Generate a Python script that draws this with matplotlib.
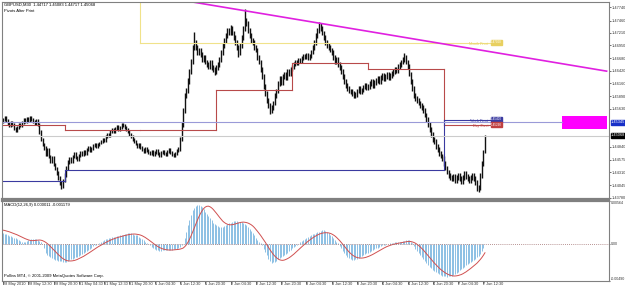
import matplotlib
matplotlib.use("Agg")
import matplotlib.pyplot as plt
from matplotlib.patches import Rectangle

# GBPUSD M30 bars, low / high in pips above 1.4000 (bar 0 = 28 May 04:30)
bar_lo = [533, 537, 535, 529, 525, 525, 527, 519, 515, 515,
          522, 525, 525, 531, 533, 533, 535, 535, 537, 533,
          529, 529, 527, 511, 496, 486, 478, 466, 466, 461,
          451, 451, 444, 436, 426, 416, 405, 396, 399, 411,
          421, 436, 448, 451, 451, 461, 458, 454, 455, 462,
          465, 465, 467, 467, 475, 473, 473, 477, 483, 481,
          481, 485, 489, 492, 495, 495, 502, 505, 505, 512,
          513, 513, 519, 517, 517, 522, 525, 521, 517, 512,
          507, 502, 497, 492, 487, 482, 482, 479, 475, 472,
          472, 473, 469, 467, 467, 465, 465, 469, 467, 463,
          463, 469, 467, 465, 465, 471, 469, 465, 462, 462,
          467, 473, 476, 496, 526, 555, 585, 595, 615, 635,
          655, 684, 685, 675, 675, 670, 660, 660, 655, 650,
          645, 645, 643, 640, 632, 635, 643, 650, 660, 675,
          690, 700, 710, 717, 717, 715, 705, 695, 685, 671,
          675, 690, 705, 725, 735, 720, 710, 700, 695, 685,
          680, 665, 655, 640, 625, 605, 590, 575, 565, 552,
          555, 560, 570, 585, 595, 610, 613, 613, 625, 623,
          623, 631, 631, 641, 646, 651, 654, 654, 658, 658,
          664, 666, 666, 664, 664, 668, 676, 685, 695, 710,
          720, 725, 715, 705, 695, 690, 685, 680, 675, 665,
          655, 655, 650, 643, 635, 625, 615, 607, 600, 595,
          593, 590, 585, 586, 588, 595, 593, 593, 597, 603,
          601, 601, 605, 610, 607, 607, 613, 617, 615, 615,
          623, 621, 621, 625, 623, 623, 627, 631, 635, 637,
          637, 645, 650, 655, 660, 655, 645, 630, 615, 600,
          585, 580, 575, 570, 565, 560, 555, 545, 535, 525,
          515, 505, 495, 490, 480, 473, 465, 460, 455, 445,
          435, 427, 420, 415, 413, 413, 410, 410, 415, 413,
          407, 407, 415, 417, 413, 410, 410, 415, 413, 405,
          392, 390, 395, 420, 445, 471.7]
bar_hi = [544, 548, 548, 541, 535, 538, 538, 533, 525, 528,
          533, 533, 537, 543, 543, 545, 545, 548, 548, 543,
          539, 541, 541, 533, 518, 503, 493, 485, 481, 481,
          468, 466, 465, 451, 443, 433, 423, 413, 418, 429,
          444, 456, 464, 463, 468, 474, 473, 465, 469, 475,
          475, 478, 478, 481, 485, 485, 483, 489, 493, 493,
          491, 495, 498, 503, 503, 508, 513, 513, 518, 523,
          523, 525, 529, 529, 528, 533, 533, 531, 527, 523,
          518, 513, 508, 503, 498, 493, 491, 491, 485, 481,
          483, 483, 479, 475, 477, 477, 475, 479, 479, 473,
          475, 478, 478, 473, 477, 481, 481, 475, 471, 473,
          479, 483, 504, 535, 565, 595, 606, 626, 646, 666,
          696, 722, 706, 695, 690, 689, 680, 675, 675, 665,
          660, 665, 665, 653, 650, 653, 660, 670, 685, 700,
          710, 720, 730, 730, 736, 735, 725, 715, 705, 695,
          700, 715, 735, 770, 752, 745, 730, 720, 710, 705,
          695, 690, 675, 665, 650, 635, 615, 600, 585, 575,
          570, 580, 595, 605, 620, 630, 630, 635, 640, 640,
          645, 645, 650, 654, 659, 664, 664, 669, 669, 672,
          676, 676, 679, 679, 676, 684, 695, 705, 720, 730,
          742, 740, 735, 725, 715, 705, 700, 695, 690, 685,
          675, 670, 670, 660, 653, 645, 635, 625, 617, 610,
          605, 603, 600, 597, 605, 610, 610, 607, 613, 617,
          617, 615, 620, 625, 625, 623, 627, 630, 630, 633,
          637, 637, 635, 640, 640, 637, 641, 645, 650, 650,
          655, 660, 665, 670, 678, 675, 665, 655, 640, 625,
          610, 595, 590, 585, 580, 575, 570, 565, 555, 545,
          535, 525, 515, 505, 500, 490, 483, 475, 470, 465,
          455, 445, 437, 430, 425, 427, 427, 425, 430, 430,
          423, 425, 433, 433, 427, 423, 425, 430, 430, 423,
          415, 405, 430, 455, 477, 508.3]

# MACD(12,26,9) main and signal, units of 0.00001
macd_main = [140, 132, 124, 116, 108, 98, 90, 80, 70, 60,
             50, 40, 30, 20, 30, 40, 50, 55, 58, 60,
             60, 58, 50, 40, 30, 0, -60, -120, -145, -165,
             -180, -190, -200, -208, -215, -220, -226, -232, -236, -240,
             -240, -230, -215, -205, -200, -190, -180, -170, -160, -150,
             -140, -125, -110, -95, -80, -65, -50, -35, -22, -10,
             0, 10, 22, 35, 48, 60, 68, 75, 82, 88,
             92, 96, 100, 105, 110, 115, 120, 126, 132, 137,
             140, 138, 132, 122, 116, 110, 95, 80, 65, 48,
             30, 15, 0, -20, -40, -60, -70, -78, -85, -90,
             -90, -88, -86, -84, -82, -80, -78, -76, -74, -72,
             -70, -60, -40, -20, 0, 80, 160, 250, 320, 380,
             440, 475, 500, 510, 505, 495, 480, 455, 425, 395,
             370, 340, 310, 280, 260, 245, 230, 222, 220, 225,
             235, 245, 260, 270, 280, 290, 300, 298, 295, 292,
             288, 285, 280, 265, 245, 225, 200, 175, 145, 115,
             80, 55, 30, 5, -20, -65, -110, -150, -200, -225,
             -250, -245, -235, -220, -205, -190, -175, -160, -145, -130,
             -115, -100, -85, -60, -45, -30, -15, 0, 20, 35,
             50, 62, 75, 88, 100, 112, 125, 135, 145, 155,
             160, 170, 178, 180, 170, 155, 140, 120, 100, 80,
             55, 30, 10, -30, -60, -95, -125, -150, -170, -190,
             -205, -210, -210, -205, -200, -190, -175, -160, -145, -135,
             -125, -115, -105, -92, -80, -70, -60, -50, -40, -30,
             -22, -15, -10, -5, 0, 5, 10, 15, 20, 22,
             25, 28, 30, 35, 42, 48, 50, 45, 30, 5,
             -30, -65, -100, -125, -150, -175, -200, -225, -250, -275,
             -300, -320, -340, -355, -368, -380, -392, -405, -420, -425,
             -430, -432, -430, -425, -418, -408, -396, -382, -366, -348,
             -330, -315, -300, -285, -270, -255, -240, -225, -210, -195,
             -180, -160, -130, -95, -50, 1.1]
macd_signal = [180, 176, 170, 164, 158, 150, 142, 134, 126, 118,
               108, 98, 88, 78, 68, 60, 52, 46, 42, 42,
               44, 46, 48, 50, 48, 42, 32, 20, 4, -14,
               -34, -56, -78, -100, -122, -142, -162, -180, -196, -208,
               -218, -224, -226, -226, -224, -220, -214, -206, -196, -186,
               -176, -165, -152, -140, -126, -112, -98, -84, -70, -56,
               -42, -30, -18, -6, 6, 17, 28, 38, 48, 57,
               65, 72, 80, 86, 92, 98, 104, 109, 114, 119,
               123, 126, 128, 129, 128, 125, 121, 115, 107, 96,
               84, 70, 55, 40, 24, 8, -8, -22, -36, -48,
               -58, -66, -72, -77, -80, -82, -82, -82, -80, -79,
               -77, -74, -70, -64, -56, -38, -14, 18, 58, 104,
               154, 206, 258, 310, 358, 400, 436, 464, 484, 494,
               496, 488, 474, 454, 430, 404, 376, 350, 324, 300,
               282, 268, 258, 252, 250, 252, 256, 262, 268, 274,
               280, 284, 286, 284, 280, 274, 264, 252, 236, 216,
               192, 166, 140, 112, 82, 52, 20, -12, -46, -80,
               -110, -138, -162, -182, -198, -210, -216, -218, -214, -206,
               -196, -184, -170, -154, -137, -118, -100, -80, -60, -40,
               -22, -4, 14, 32, 48, 64, 78, 92, 104, 116,
               126, 134, 140, 144, 146, 146, 144, 138, 130, 118,
               104, 86, 66, 44, 20, -6, -32, -58, -84, -108,
               -128, -146, -160, -172, -180, -185, -188, -188, -186, -182,
               -176, -168, -160, -150, -140, -128, -116, -104, -92, -80,
               -68, -57, -46, -36, -28, -20, -13, -7, -2, 3,
               7, 11, 15, 19, 23, 27, 30, 32, 30, 25,
               18, 8, -6, -22, -40, -60, -82, -106, -130, -155,
               -180, -205, -230, -254, -276, -298, -318, -338, -355, -370,
               -384, -396, -406, -414, -420, -424, -424, -422, -418, -412,
               -405, -395, -383, -370, -355, -340, -324, -307, -290, -272,
               -254, -232, -208, -182, -152, -118]

time_labels = ['28 May 2010', '28 May 12:30', '28 May 20:30', '31 May 04:30', '31 May 12:30',
               '31 May 20:30', '1 Jun 04:30', '1 Jun 12:30', '1 Jun 20:30', '2 Jun 04:30',
               '2 Jun 12:30', '2 Jun 20:30', '3 Jun 04:30', '3 Jun 12:30', '3 Jun 20:30',
               '4 Jun 04:30', '4 Jun 12:30', '4 Jun 20:30', '7 Jun 04:30', '7 Jun 12:30']
# the two grid levels hidden under the price tags are left out
price_labels = ['1.43780', '1.44045', '1.44310', '1.44575', '1.44840',
                '1.45630', '1.45890', '1.46160', '1.46420', '1.46680', '1.46950',
                '1.47210', '1.47460', '1.47740']

# pivot levels: first bar of each period and level in pips
day_start = [0, 39, 87, 135, 183, 231, 279]
day_pivot = [530, 519, 519, 602, 658, 645, 529]
week_start = [0, 39, 279]
week_pivot = [413, 436, 540]
month_start = [0, 87]
month_pivot = [800, 700]
pivot_end = 314

trend_bars = [117, 382]
trend_prices = [1.4786, 1.4641]
hline_price = 1.4535
zone_bars = [354, 382]
zone_prices = [1.4522, 1.4548]
bid_price = 1.45068


def px(p):
    return 1.4 + p / 10000.0


plt.rcParams['font.family'] = ['Liberation Sans', 'DejaVu Sans']

W, H = 625, 289
fig = plt.figure(figsize=(W / 100, H / 100), dpi=100)
fig.patch.set_facecolor('white')
ax = fig.add_axes([2 / W, (H - 199) / H, 607 / W, 197 / H])
ax2 = fig.add_axes([2 / W, (H - 281) / H, 607 / W, 80 / H])

fs = 2.8
tfs = 3.0
xmin, xmax = -0.63, 383.5
n = len(bar_lo)
idx = list(range(n))

# price bars
ax.vlines(idx, [px(v) for v in bar_lo], [px(v) for v in bar_hi], color='#111111', lw=1.0)


def step_line(starts, levels, color, lw=0.8):
    ends = starts[1:] + [pivot_end]
    for i, (s, e, lv) in enumerate(zip(starts, ends, levels)):
        ax.plot([s, e], [px(lv), px(lv)], color=color, lw=lw)
        if i > 0:
            ax.plot([s, s], [px(levels[i - 1]), px(lv)], color=color, lw=lw)


step_line(month_start, month_pivot, '#f0e28a')
step_line(day_start, day_pivot, '#b84a4a')
step_line(week_start, week_pivot, '#3a3aa0')

ax.axhline(hline_price, color='#9a9ad8', lw=0.8, xmax=(zone_bars[0] - xmin) / (xmax - xmin))
ax.axhline(bid_price, color='#cccccc', lw=0.8)
ax.add_patch(Rectangle((zone_bars[0], zone_prices[0]), zone_bars[1] - zone_bars[0],
                       zone_prices[1] - zone_prices[0], color='#ff00ff', lw=0))
ax.plot(trend_bars, trend_prices, color='#e020e0', lw=1.2)

# pivot labels
for name, lv, col in [('Month Pivot', month_pivot[-1], '#e8d060'),
                      ('Week Pivot', week_pivot[-1], '#3a3aa0'),
                      ('Day Pivot', day_pivot[-1], '#c04040')]:
    ax.text(307.2, px(lv) - 0.00024, name, color=col, fontsize=fs, ha='right', va='center',
            family='Liberation Serif')
    ax.text(308.8, px(lv) + 0.0001, '%.5f' % px(lv), color='white', fontsize=2.2,
            ha='left', va='center', bbox=dict(boxstyle='square,pad=0.15', fc=col, ec=col))

ax.set_xlim(xmin, xmax)
ax.set_ylim(1.43759, 1.47844)
ax.yaxis.tick_right()
ax.set_yticks([float(s) for s in price_labels])
ax.set_yticklabels(price_labels)
ax.set_xticks([])
ax.tick_params(axis='y', length=1.5, width=0.5, labelsize=fs, pad=0.6, colors='#333333')

# MACD panel
ax2.vlines(idx, 0, [v * 1e-5 for v in macd_main], color='#8cc0e4', lw=0.7)
ax2.plot(idx, [v * 1e-5 for v in macd_signal], color='#d05050', lw=0.7)
ax2.axhline(0, color='#a07070', lw=0.6, ls=(0, (1, 1.5)))
ax2.set_xlim(xmin, xmax)
ax2.set_ylim(-0.0049, 0.00564)
ax2.yaxis.tick_right()
ax2.set_yticks([-0.0049, 0, 0.00564])
ax2.set_yticklabels(['-0.00490', '0.00', '0.00564'])
ax2.tick_params(axis='y', length=1, width=0.5, labelsize=fs - 0.2, pad=0.4, colors='#333333')
ax2.get_yticklabels()[2].set_va('top')
ax2.get_yticklabels()[0].set_va('bottom')
ax2.set_xticks([i * 16 for i in range(len(time_labels))])
ax2.set_xticklabels(time_labels)
ax2.tick_params(axis='x', length=2.5, width=0.5, labelsize=fs, pad=-1.8, colors='#333333')
for lab in ax2.get_xticklabels():
    lab.set_ha('left')
    lab.set_x(lab.get_position()[0] + 0.6)

for a in (ax, ax2):
    for side, sp in a.spines.items():
        sp.set_color('#808080')
        sp.set_linewidth(0.8)
    a.set_facecolor('white')
ax.spines['bottom'].set_linewidth(1.6)
ax2.spines['top'].set_linewidth(1.6)

# right axis value tags
fig.text(611 / W, 1 - 122.5 / H, '1.45345', fontsize=fs, color='white', va='center', ha='left',
         bbox=dict(boxstyle='square,pad=0.1', fc='#1830c8', ec='#1830c8'))
fig.text(611 / W, 1 - 135.5 / H, '1.45068', fontsize=fs, color='white', va='center', ha='left',
         bbox=dict(boxstyle='square,pad=0.1', fc='black', ec='black'))

fig.text(4 / W, 1 - 5 / H, 'GBPUSD,M30  1.44717 1.45083 1.44717 1.45068', fontsize=tfs, va='center')
fig.text(4 / W, 1 - 10.5 / H, 'Pivots Alter Print', fontsize=tfs, va='center')
fig.text(4 / W, 1 - 205 / H, 'MACD(12,26,9) 0.000011 -0.001179', fontsize=tfs, va='center')
fig.text(4 / W, 1 - 276 / H, 'Pollins MT4, \u00a9 2001-2009 MetaQuotes Software Corp.', fontsize=tfs, va='center')

fig.savefig('out.png', dpi=100)
